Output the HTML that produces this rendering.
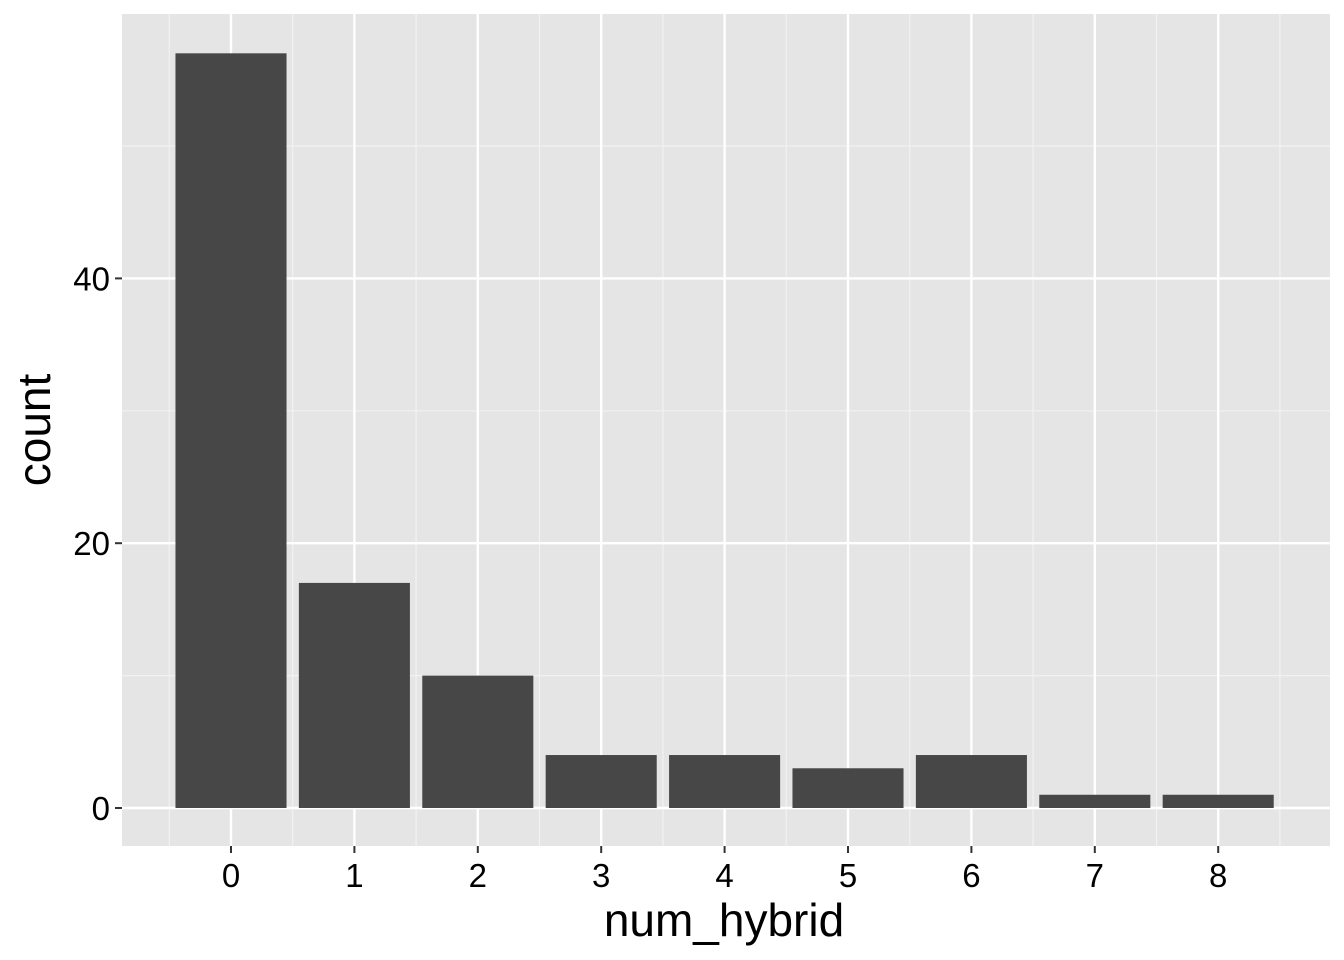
<!DOCTYPE html>
<html><head><meta charset="utf-8"><style>
html,body{margin:0;padding:0;background:#fff;}
svg{display:block;font-family:"Liberation Sans",Arial,sans-serif;}
</style></head><body>
<svg id="chart" width="1344" height="960">
<rect x="122" y="14" width="1208" height="832" fill="#e5e5e5"/>
<g id="grid"></g><g id="bars"></g><g id="axes"></g>
<text x="724" y="936" font-size="46" text-anchor="middle" fill="#000">num_hybrid</text>
<text transform="translate(50,430) rotate(-90)" font-size="46" text-anchor="middle" fill="#000">count</text>
</svg>
<script>
const categories = ["0","1","2","3","4","5","6","7","8"];
const counts = [57,17,10,4,4,3,4,1,1];
const yTicks = [0,20,40];
const yMinor = [10,30,50];
const NS = "http://www.w3.org/2000/svg";
const y0px = 808, unit = 13.24;
function yScale(v){return y0px - v*unit;}
const xStart = 231, step = 123.4;
function xScale(i){return xStart + i*step;}
function mk(tag, attrs, parent){const e=document.createElementNS(NS,tag);for(const k in attrs)e.setAttribute(k,attrs[k]);document.getElementById(parent).appendChild(e);return e;}
yMinor.forEach(v=>{const l=mk("line",{x1:122,x2:1330,y1:yScale(v),y2:yScale(v),stroke:"#f2f2f2","stroke-width":1.2},"grid");

});
for(let i=0;i<=categories.length;i++){const x=xScale(i-0.5);const l=mk("line",{x1:x,x2:x,y1:14,y2:846,stroke:"#f2f2f2","stroke-width":1.2},"grid");

}
yTicks.forEach(v=>{const y=yScale(v);const l=mk("line",{x1:122,x2:1330,y1:y,y2:y,stroke:"#fff","stroke-width":2.4},"grid");


const t=mk("line",{x1:115,x2:122,y1:y,y2:y,stroke:"#333","stroke-width":2},"axes");


const tx=mk("text",{x:110,y:y+12,"font-size":33,"text-anchor":"end",fill:"#000"},"axes");tx.textContent=v;

});
categories.forEach((c,i)=>{const x=xScale(i);const l=mk("line",{x1:x,x2:x,y1:14,y2:846,stroke:"#fff","stroke-width":2.4},"grid");


const b=mk("rect",{x:x-step*0.45,width:step*0.9,y:yScale(counts[i]),height:yScale(0)-yScale(counts[i]),fill:"#474747"},"bars");


const t=mk("line",{x1:x,x2:x,y1:846,y2:853,stroke:"#333","stroke-width":2},"axes");


const tx=mk("text",{x:x,y:887,"font-size":33,"text-anchor":"middle",fill:"#000"},"axes");tx.textContent=c;

});
</script>
</body></html>
